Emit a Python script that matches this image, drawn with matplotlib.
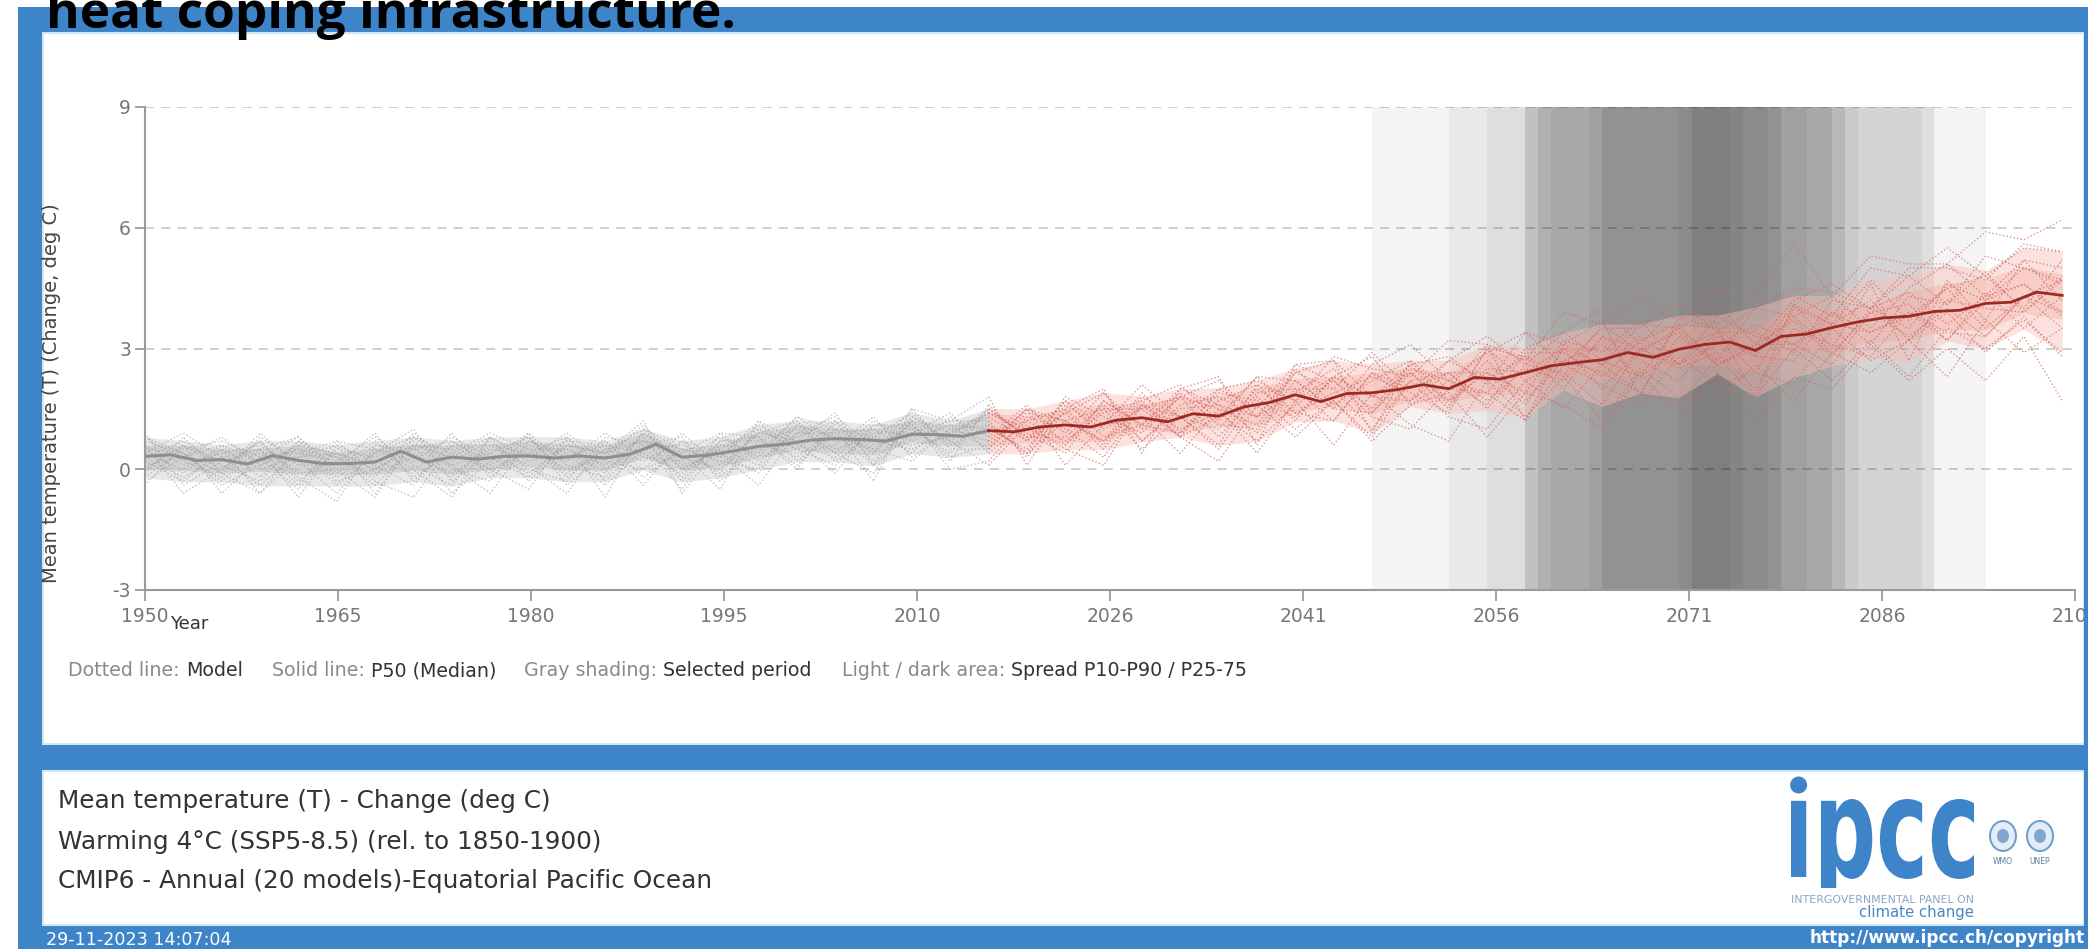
import numpy as np
import matplotlib
matplotlib.use("Agg")
import matplotlib.pyplot as plt
from matplotlib.patches import Rectangle, Ellipse, PathPatch
from matplotlib.textpath import TextPath
from matplotlib.font_manager import FontProperties
from matplotlib.transforms import Affine2D, Bbox

plt.rcParams["axes.unicode_minus"] = False

W, H = 2088, 949
DPI = 100

# model runs, sampled every 3 years 1950..2100
years = np.arange(1950, 2101, 3)
split_year = 2016

model_01 = [0.5, -0.1, 0.6, 0.2, 0.5, -0.4, 0.4, 0.8, 0.1, 0.4, -0.1, 0.6, 0.4, 1.0, 0.0, 0.5, 1.0, 0.5, 1.1, 0.4, 1.3, 0.9,
            1.3, 0.7, 1.7, 1.1, 2.1, 1.3, 2.0, 2.2, 1.7, 2.8, 2.5, 2.3, 3.2, 3.1, 2.7, 3.9, 3.6, 4.3, 3.7, 4.5, 4.3, 5.6, 4.3, 5.3, 5.1, 5.1, 5.9, 5.7, 6.2]
model_02 = [0.0, 0.6, 0.0, 0.7, -0.3, 0.4, 0.1, -0.4, 0.7, 0.2, 0.8, -0.1, 0.5, 0.2, 0.7, -0.2, 0.7, 1.0, 0.4, 1.2, 0.7, 1.1,
            0.5, 1.5, 0.9, 1.9, 1.0, 1.8, 2.2, 1.3, 2.4, 2.0, 2.9, 2.0, 2.7, 3.3, 2.6, 3.4, 4.0, 3.1, 4.1, 3.6, 4.3, 4.3, 3.8, 5.0, 4.8, 5.5, 4.8, 5.5, 5.4]
model_03 = [0.7, 0.4, -0.3, 0.5, 0.8, -0.1, 0.6, 0.4, -0.2, 0.6, 0.4, 0.8, -0.3, 0.7, 0.4, 0.9, 0.2, 0.9, 1.3, 0.6, 1.0, 0.4,
            1.5, 0.8, 1.4, 0.5, 1.7, 2.1, 1.2, 2.3, 2.2, 1.5, 2.6, 3.1, 2.2, 2.9, 3.4, 2.6, 3.5, 3.5, 4.2, 3.4, 4.0, 4.5, 4.4, 4.0, 5.0, 5.0, 4.7, 5.6, 5.4]
model_04 = [0.2, -0.3, 0.5, 0.0, 0.3, 0.6, -0.6, 0.6, 0.5, -0.1, 0.6, 0.3, 0.7, -0.2, 0.5, 0.3, 1.2, 0.2, 0.9, 1.0, 0.4, 1.3,
            0.8, 1.6, 0.6, 1.5, 1.5, 0.8, 2.0, 1.5, 2.6, 2.2, 1.5, 2.6, 2.8, 2.1, 3.4, 3.1, 2.6, 3.6, 3.5, 4.1, 3.1, 4.2, 4.6, 4.0, 4.8, 4.1, 5.3, 5.0, 4.6]
model_05 = [0.4, 0.9, 0.3, -0.4, 0.4, 0.2, 0.8, 0.1, -0.4, 0.8, 0.2, 0.5, 0.1, 0.8, -0.3, 0.7, 0.8, 0.1, 1.0, 0.8, 1.4, 0.6,
            1.1, 0.4, 1.8, 1.3, 0.9, 1.8, 1.5, 1.1, 2.4, 2.7, 1.8, 2.4, 1.5, 3.0, 2.8, 2.3, 3.6, 2.9, 3.5, 2.7, 4.0, 3.8, 4.3, 3.5, 4.5, 5.1, 4.3, 5.2, 4.2]
model_06 = [-0.2, 0.5, 0.7, 0.3, -0.5, 0.5, 0.3, 0.7, 0.0, -0.3, 0.9, 0.1, -0.2, 0.9, 0.3, 0.0, 0.9, 1.2, 0.2, 0.9, 0.9, 1.4,
            0.4, 1.2, 1.5, 0.6, 1.8, 1.3, 0.6, 2.1, 1.7, 2.3, 2.8, 1.6, 2.2, 1.9, 3.0, 3.4, 2.7, 2.3, 3.6, 3.5, 2.8, 4.1, 3.6, 4.7, 3.7, 4.5, 4.8, 4.0, 5.2]
model_07 = [0.8, 0.2, -0.2, 0.8, 0.2, -0.6, 0.5, 0.2, 0.8, 0.3, -0.2, 0.7, 0.6, 0.4, -0.1, 0.6, 0.5, 0.8, 1.2, 0.2, 1.2, 0.7,
            1.4, 0.9, 0.4, 1.7, 1.1, 2.0, 1.6, 1.3, 2.5, 1.6, 2.2, 2.7, 1.7, 2.4, 1.9, 3.2, 2.9, 3.7, 2.6, 3.4, 3.4, 2.9, 4.2, 4.0, 3.5, 4.6, 4.2, 5.0, 4.7]
model_08 = [0.3, 0.7, 0.1, -0.3, 0.7, 0.3, -0.2, 0.9, 0.2, 0.7, 0.0, -0.3, 0.8, 0.6, 0.8, -0.3, 0.6, 0.4, 0.6, 1.3, 0.3, 1.0,
            0.7, 1.5, 1.2, 0.7, 1.9, 0.9, 1.7, 2.1, 1.2, 2.3, 1.8, 1.7, 2.7, 2.2, 2.8, 2.0, 3.3, 3.0, 2.6, 3.8, 3.3, 3.1, 3.9, 3.1, 4.3, 4.1, 4.9, 3.9, 4.7]
model_09 = [0.6, 0.1, 0.4, 0.6, -0.1, 0.0, 0.7, -0.2, 0.4, 0.9, 0.5, 0.0, 0.3, 1.1, 0.1, 0.4, -0.1, 1.1, 0.8, 0.5, 1.1, 0.2,
            1.6, 0.7, 1.4, 1.9, 0.7, 1.6, 1.8, 1.3, 1.9, 2.5, 1.4, 2.5, 2.2, 1.6, 2.9, 2.9, 2.3, 3.2, 3.6, 2.6, 3.1, 3.7, 2.8, 4.0, 4.4, 3.6, 4.3, 4.6, 3.8]
model_10 = [0.1, 0.3, 0.8, 0.1, 0.6, -0.3, 0.0, 0.5, 0.7, 0.1, 0.7, 0.4, -0.4, 0.5, 0.6, 0.3, 1.1, 0.6, 0.3, 1.1, 1.0, 0.8,
            0.9, 1.2, 0.7, 1.4, 1.7, 0.8, 1.3, 2.3, 1.4, 1.9, 2.3, 1.9, 1.4, 3.0, 2.2, 2.7, 3.1, 2.3, 3.0, 3.4, 2.4, 4.0, 3.6, 3.4, 3.8, 4.5, 3.5, 4.3, 4.7]
model_11 = [0.9, -0.4, 0.2, 0.4, 0.4, 0.7, -0.1, 0.3, -0.1, 0.5, 0.3, 0.9, 0.2, 0.0, 0.9, 0.1, 0.9, 0.7, 1.4, 0.1, 0.9, 1.2,
            1.2, 0.3, 1.6, 1.0, 1.5, 1.8, 0.8, 1.9, 2.0, 1.2, 2.4, 2.0, 2.4, 2.4, 1.6, 3.0, 2.6, 3.3, 2.6, 3.1, 3.6, 3.1, 3.6, 4.2, 3.2, 4.2, 4.0, 3.9, 4.8]
model_12 = [-0.1, 0.8, -0.1, 0.9, 0.1, 0.1, 0.9, -0.3, 0.6, 0.0, 0.4, 0.2, 0.9, 0.3, 0.2, 0.8, 0.3, 1.3, 0.7, 0.7, 0.5, 0.9,
            1.4, 1.0, 0.6, 1.7, 1.1, 0.9, 1.9, 1.7, 1.3, 2.3, 1.8, 2.6, 1.6, 2.5, 2.4, 3.0, 2.0, 3.0, 3.4, 2.6, 3.0, 3.8, 2.9, 3.9, 4.1, 3.2, 4.2, 4.6, 3.9]
model_13 = [0.5, 0.4, -0.4, 0.1, 0.5, 0.3, -0.4, 0.6, 0.3, 0.8, -0.3, 0.6, 0.4, 0.7, -0.2, 0.7, 0.7, 0.3, 1.0, 0.4, 1.5, 0.5,
            0.5, 1.4, 1.2, 0.7, 1.6, 1.3, 1.0, 2.0, 1.4, 1.2, 2.4, 1.7, 2.4, 1.7, 2.5, 2.2, 3.3, 2.7, 2.2, 3.3, 2.8, 2.7, 3.9, 3.4, 3.9, 3.2, 4.4, 3.5, 4.3]
model_14 = [-0.3, 0.3, 0.6, -0.2, 0.7, -0.2, 0.4, 1.0, -0.3, 0.4, 0.8, -0.2, 0.5, 0.7, 0.5, -0.1, 1.0, 0.5, 0.1, 1.0, 0.8, 1.1,
            1.0, 0.5, 1.7, 0.8, 1.1, 1.9, 1.1, 1.0, 2.2, 1.5, 1.4, 2.4, 1.7, 2.7, 1.7, 2.7, 2.4, 1.9, 3.3, 2.6, 3.1, 3.1, 2.6, 3.9, 3.3, 4.0, 3.3, 4.3, 3.9]
model_15 = [0.3, -0.2, 0.3, 0.5, -0.7, 0.6, 0.2, -0.1, 0.9, -0.2, 0.5, 0.5, -0.1, 0.9, 0.0, 0.5, 0.1, 1.2, 0.5, 0.8, 0.6, 0.8,
            1.5, 0.8, 0.8, 1.6, 0.7, 1.5, 1.6, 0.9, 2.0, 2.0, 1.0, 2.2, 2.4, 1.5, 2.6, 2.4, 1.6, 3.0, 2.5, 2.9, 2.0, 3.5, 3.1, 2.8, 3.9, 3.4, 3.3, 4.3, 3.5]
model_16 = [0.6, -0.6, 0.0, 0.7, -0.2, -0.8, 0.6, 0.5, 0.1, -0.6, 0.7, 0.3, 0.6, -0.4, 0.7, 0.4, -0.4, 0.9, 0.9, 0.1, 1.2, 0.0,
            0.2, 1.3, 1.0, 0.3, 1.6, 1.0, 1.4, 0.7, 1.6, 2.2, 1.3, 1.0, 2.0, 1.9, 1.2, 2.6, 2.1, 1.6, 2.8, 2.1, 2.4, 2.1, 3.5, 2.7, 3.2, 3.9, 2.9, 3.8, 2.8]
model_17 = [0.0, 0.6, -0.6, 0.3, 0.8, 0.0, -0.7, 0.8, 0.4, 0.0, -0.5, 0.8, 0.0, 0.6, -0.5, 0.9, 0.8, 0.0, 1.2, 0.5, 0.2, 1.0,
            1.1, 0.4, 1.2, 1.5, 0.5, 1.3, 0.5, 1.8, 1.0, 1.7, 0.8, 2.2, 1.3, 1.0, 2.2, 1.5, 2.6, 1.9, 1.6, 2.8, 1.8, 3.0, 2.2, 3.2, 2.3, 3.5, 3.0, 3.7, 2.9]
model_18 = [0.4, 0.0, 0.5, -0.6, 0.3, 0.4, -0.3, -0.7, 0.6, 0.6, 0.1, -0.6, 0.7, 0.0, 0.4, -0.5, 1.2, 0.7, -0.1, 1.1, 1.1, 0.3,
            0.6, 1.5, 0.1, 1.1, 1.3, 0.4, 1.5, 0.4, 1.7, 0.6, 1.9, 1.1, 0.7, 2.2, 1.3, 2.3, 1.2, 2.5, 1.8, 1.7, 2.6, 1.7, 2.9, 2.4, 3.2, 2.3, 3.7, 2.9, 3.5]
model_19 = [-0.4, 0.6, 0.2, 0.5, -0.4, 0.7, 0.5, 0.0, -0.7, 0.8, 0.3, 0.7, -0.7, 1.0, 0.5, 0.2, 0.0, 1.1, 0.4, -0.1, 1.3, 0.7,
            0.1, 1.1, 0.5, 0.1, 1.6, 0.8, 0.2, 1.6, 0.8, 1.7, 0.7, 1.6, 1.9, 0.8, 1.9, 1.6, 1.0, 2.4, 1.3, 2.4, 1.2, 2.3, 2.0, 3.1, 2.2, 3.0, 2.2, 3.3, 1.7]
model_20 = [0.8, 0.4, -0.1, -0.6, 0.6, 0.4, 0.0, 0.6, -0.6, 0.2, 0.9, -0.4, 0.4, 1.2, -0.6, 0.6, 0.4, 1.3, 1.0, -0.3, 1.5, 1.2,
            1.8, 0.1, 1.5, 2.0, 0.4, 2.0, 2.3, 0.6, 2.6, 2.7, 0.9, 2.7, 2.0, 3.1, 1.2, 3.1, 3.7, 1.8, 3.8, 3.5, 1.8, 4.1, 3.0, 4.6, 2.7, 4.7, 3.7, 5.2, 5.0]

models = np.array([model_01, model_02, model_03, model_04, model_05, model_06, model_07,
                   model_08, model_09, model_10, model_11, model_12, model_13, model_14,
                   model_15, model_16, model_17, model_18, model_19, model_20])

# P50 (median) line, every 2 years
median_years = np.arange(1950, 2101, 2)
p50 = [0.32, 0.36, 0.22, 0.24, 0.13, 0.34, 0.22, 0.14, 0.14, 0.18,
       0.45, 0.18, 0.30, 0.25, 0.32, 0.33, 0.28, 0.33, 0.28, 0.38,
       0.62, 0.30, 0.35, 0.45, 0.57, 0.62, 0.72, 0.76, 0.74, 0.70,
       0.87, 0.86, 0.82, 0.96, 0.93, 1.05, 1.10, 1.05, 1.22, 1.28,
       1.18, 1.38, 1.32, 1.55, 1.66, 1.85, 1.68, 1.88, 1.90, 1.98,
       2.10, 2.00, 2.28, 2.24, 2.40, 2.57, 2.65, 2.72, 2.90, 2.78,
       2.98, 3.10, 3.16, 2.95, 3.30, 3.36, 3.52, 3.66, 3.76, 3.80,
       3.92, 3.95, 4.12, 4.15, 4.40, 4.32]
p50 = np.array(p50)

# selected 20-year periods (one per model reaching the warming level)
period_start = [2046, 2052, 2055, 2058, 2058, 2058, 2059, 2059, 2060, 2063, 2064, 2064, 2070, 2071, 2071]
period_end = [2074, 2075, 2077, 2078, 2078, 2080, 2082, 2082, 2083, 2083, 2084, 2089, 2090, 2090, 2094]

xticks = np.linspace(1950, 2101, 11)
yticks = [-3, 0, 3, 6, 9]

ylabel = "Mean temperature (T) (Change, deg C)"
legend_parts = [("Dotted line:", "Model", 68), ("Solid line:", "P50 (Median)", 272),
                ("Gray shading:", "Selected period", 524), ("Light / dark area:", "Spread P10-P90 / P25-75", 842)]
info_lines = ["Mean temperature (T) - Change (deg C)",
              "Warming 4\u00b0C (SSP5-8.5) (rel. to 1850-1900)",
              "CMIP6 - Annual (20 models)-Equatorial Pacific Ocean"]

blue = "#3e84c8"


def fx(x):
    return x / W


def fy(y):
    return 1 - y / H


fig = plt.figure(figsize=(W / DPI, H / DPI), dpi=DPI)
fig.patch.set_facecolor("white")

# frame and panels (behind the axes)
fig.add_artist(Rectangle((fx(18), 0), 1 - fx(18), 1 - 7 / H, transform=fig.transFigure,
                         facecolor=blue, edgecolor="none", zorder=-3))
fig.add_artist(Rectangle((fx(43), fy(744)), fx(2084) - fx(43), (744 - 33) / H, transform=fig.transFigure,
                         facecolor="white", edgecolor="#cfe6f7", lw=1.5, zorder=-2))
fig.add_artist(Rectangle((fx(43), fy(925)), fx(2084) - fx(43), (925 - 771) / H, transform=fig.transFigure,
                         facecolor="white", edgecolor="#cfe6f7", lw=1.5, zorder=-2))

ax = fig.add_axes([fx(145), fy(590), fx(2075) - fx(145), (590 - 107) / H])
ax.set_facecolor("none")

for s, e in zip(period_start, period_end):
    ax.axvspan(s, e, color="black", alpha=0.044, lw=0, zorder=1)

hist = years <= split_year
fut = years >= split_year
p10 = np.percentile(models, 10, axis=0)
p25 = np.percentile(models, 25, axis=0)
p75 = np.percentile(models, 75, axis=0)
p90 = np.percentile(models, 90, axis=0)

ax.fill_between(years[hist], p10[hist], p90[hist], color="#d2d2d2", alpha=0.5, lw=0, zorder=2)
ax.fill_between(years[hist], p25[hist], p75[hist], color="#b8b8b8", alpha=0.4, lw=0, zorder=2)
ax.fill_between(years[fut], p10[fut], p90[fut], color="#f8c0b8", alpha=0.45, lw=0, zorder=2)
ax.fill_between(years[fut], p25[fut], p75[fut], color="#f4a195", alpha=0.3, lw=0, zorder=2)

for m in models:
    ax.plot(years[hist], m[hist], color="#a0a0a0", lw=1.0, ls=(0, (1, 1.6)), alpha=0.65, zorder=3)
    ax.plot(years[fut], m[fut], color="#d06a62", lw=1.0, ls=(0, (1, 1.6)), alpha=0.7, zorder=3)

mh = median_years <= split_year
mf = median_years >= split_year
ax.plot(median_years[mh], p50[mh], color="#8e8e8e", lw=2.2, zorder=4)
ax.plot(median_years[mf], p50[mf], color="#9c2a24", lw=2.0, zorder=4)

ax.set_xlim(1950, 2101)
ax.set_ylim(-3, 9)
ax.set_xticks(xticks)
ax.set_xticklabels(["%d" % round(v) for v in xticks])
ax.set_yticks(yticks)
for v in [0, 3, 6, 9]:
    ax.axhline(v, color="#cccccc", lw=1.3, ls=(0, (5, 4)), zorder=0.8)
for side in ["top", "right"]:
    ax.spines[side].set_visible(False)
for side in ["left", "bottom"]:
    ax.spines[side].set_color("#9a9a9a")
    ax.spines[side].set_linewidth(1.5)
ax.tick_params(axis="x", length=8, width=1.3, pad=4, labelsize=13.5, labelcolor="#777777", color="#9a9a9a")
ax.tick_params(axis="y", length=7, width=1.3, pad=3, labelsize=13.5, labelcolor="#777777", color="#9a9a9a")

# right border strip over the cut tick label
fig.add_artist(Rectangle((fx(2084), 0), 1 - fx(2084), 1 - 7 / H, transform=fig.transFigure,
                         facecolor=blue, edgecolor="none", zorder=10))

# texts
fig.text(fx(46), fy(28), "heat coping infrastructure.", family=["Open Sans", "DejaVu Sans"], fontweight="bold",
         fontsize=37, color="black", va="baseline", zorder=11)
fig.text(fx(52), fy(393), ylabel, rotation=90, ha="center", va="center", fontsize=14, color="#444444")
fig.text(fx(170), fy(624), "Year", ha="left", va="center", fontsize=13, color="#333333")

renderer = fig.canvas.get_renderer()
for light, dark, x0 in legend_parts:
    t = fig.text(fx(x0), fy(671), light, ha="left", va="center", fontsize=13.7, color="#8a8a8a")
    bb = t.get_window_extent(renderer)
    fig.text((bb.x1 + 6) / W, fy(671), dark, ha="left", va="center", fontsize=13.7, color="#333333")

for line, y in zip(info_lines, [801, 842, 881]):
    fig.text(fx(58), fy(y), line, ha="left", va="center", fontsize=17.8, color="#333333")

fig.text(fx(46), fy(940), "29-11-2023 14:07:04", ha="left", va="center", fontsize=12.6, color="white", zorder=11)
fig.text(fx(2085), fy(938), "http://www.ipcc.ch/copyright", ha="right", va="center", fontsize=12.2,
         fontweight="bold", color="white", zorder=11)

# ipcc logo: dotless i + round dot, letters scaled to the logo box, p descender trimmed
logo_font = FontProperties(family="DejaVu Sans", weight="bold")
logo = TextPath((0, 0), "\u0131pcc", size=100, prop=logo_font)
c_ext = TextPath((0, 0), "c", size=100, prop=logo_font).get_extents()
i_ext = TextPath((0, 0), "\u0131", size=100, prop=logo_font).get_extents()
ext = logo.get_extents()
sx = (1974 - 1791) / ext.width
sy = 80 / c_ext.height
logo_tr = Affine2D().translate(-ext.x0, 0).scale(sx, sy).translate(1791, H - 877)
logo_patch = PathPatch(logo, transform=logo_tr, facecolor=blue, edgecolor="none")
fig.add_artist(logo_patch)
logo_patch.set_clip_box(Bbox.from_extents(0, H - 888, W, H))
logo_patch.set_clip_on(True)
dot_x = 1791 + (i_ext.x0 + i_ext.x1) / 2 * sx - ext.x0 * sx
fig.add_artist(Ellipse((fx(dot_x), fy(785)), 17 / W, 17 / H, transform=fig.transFigure,
                       facecolor=blue, edgecolor="none"))

fig.text(fx(1791), fy(900), "INTERGOVERNMENTAL PANEL ON", ha="left", va="center", fontsize=7.9, color="#8aa6c8")
fig.text(fx(1974), fy(913), "climate change", ha="right", va="center", fontsize=10.7, color="#4a86c4")
for cx, lab in [(2003, "WMO"), (2040, "UNEP")]:
    fig.add_artist(Ellipse((fx(cx), fy(836)), 26 / W, 30 / H, transform=fig.transFigure, facecolor="#e4edf6",
                           edgecolor="#6d9bcc", lw=1.4))
    fig.add_artist(Ellipse((fx(cx), fy(836)), 12 / W, 14 / H, transform=fig.transFigure, facecolor="#7fa6d0",
                           edgecolor="none"))
    fig.text(fx(cx), fy(861), lab, ha="center", va="center", fontsize=5.5, color="#5b7fa8")

fig.savefig("out.png", dpi=DPI)
